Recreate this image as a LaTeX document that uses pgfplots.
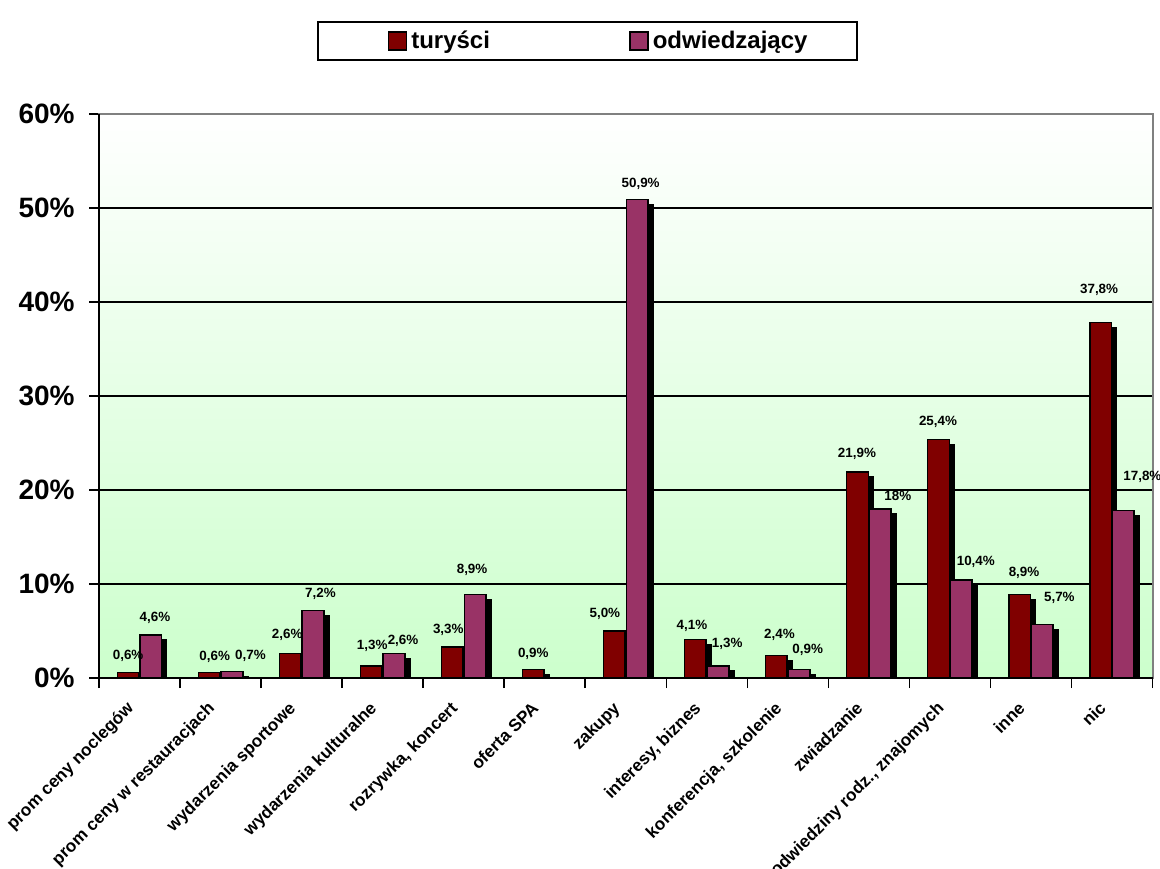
\documentclass[border=0pt]{standalone}
\usepackage{fontspec}
\setmainfont{Liberation Sans}
\usepackage{pgfplots}
\pgfplotsset{compat=1.18}
\usepackage{pgfplotstable}
\usetikzlibrary{shadows}
\definecolor{tur}{HTML}{800000}
\definecolor{odw}{HTML}{993366}
\definecolor{bgg}{HTML}{CCFFCC}

\pgfplotstableread{
x y lab dx dy
0 0.6 {0,6\%} 0 6.5
1 0.6 {0,6\%} 2.75 6
2 2.6 {2,6\%} -1.5 7.5
3 1.3 {1,3\%} 0.5 8
4 3.3 {3,3\%} -2 6.5
5 0.9 {0,9\%} 0 6
6 5.0 {5,0\%} -4.75 7
7 4.1 {4,1\%} -1.75 5
8 2.4 {2,4\%} 1.5 8.5
9 21.9 {21,9\%} -0.25 7.5
10 25.4 {25,4\%} -0.25 7
11 8.9 {8,9\%} 2.25 9
12 37.8 {37,8\%} -0.75 14.5
}\tabT

\pgfplotstableread{
x y lab dx dy
0 4.6 {4,6\%} 2 6.5
1 0.7 {0,7\%} 9.25 6
2 7.2 {7,2\%} 3.75 6.5
3 2.6 {2,6\%} 4.5 4.5
4 8.9 {8,9\%} -1.5 10.5
6 50.9 {50,9\%} 1.75 6
7 1.3 {1,3\%} 4.5 9
8 0.9 {0,9\%} 4.25 8
9 18 {18\%} 8.75 4
10 10.4 {10,4\%} 7.25 7.5
11 5.7 {5,7\%} 8.5 11.5
12 17.8 {17,8\%} 9.5 15
}\tabV

\begin{document}
\begin{tikzpicture}
\path[use as bounding box] (-49.5pt,-95pt) rectangle (530.5pt,339pt);
\begin{axis}[
  at={(0,0)}, anchor=south west,
  scale only axis, width=526.75pt, height=282pt,
  xmin=-0.5, xmax=12.5, ymin=0, ymax=60,
  xtick={-0.5,0.5,...,12.5},
  x tick label as interval,
  xticklabels={prom ceny noclegów, prom ceny w restauracjach, wydarzenia sportowe, wydarzenia kulturalne, {rozrywka, koncert}, oferta SPA, zakupy, {interesy, biznes}, {konferencja, szkolenie}, zwiadzanie, {odwiedziny rodz., znajomych}, inne, nic},
  ytick={0,10,...,60},
  yticklabels={0\%,10\%,20\%,30\%,40\%,50\%,60\%},
  xtick pos=bottom, ytick pos=left,
  tick align=outside, major tick length=5pt,
  tick style={black, line width=0.75pt},
  ymajorgrids, major grid style={black, line width=0.75pt},
  axis line style={draw=gray, line width=1pt},
  axis background/.style={shade, top color=white, bottom color=bgg},
  xticklabel style={xshift=-7pt, yshift=-6pt, rotate=45, anchor=north east, font=\bfseries\fontsize{8.6}{10}\selectfont, inner sep=0pt},
  yticklabel style={font=\bfseries\fontsize{14}{16}\selectfont, inner sep=0pt, xshift=-7pt},
  legend columns=2,
  legend style={at={(0.4637,1.1294)}, anchor=center, draw=black, line width=1pt, fill=white,
    font=\bfseries\fontsize{12}{14}\selectfont, inner xsep=23pt, inner ysep=2.2pt,
    /tikz/every even column/.append style={column sep=55.5pt}},
  after end axis/.code={\draw[black, line width=1pt] (rel axis cs:0,1) -- (rel axis cs:0,0) -- (rel axis cs:1,0);},
]
\addlegendimage{legend image code/.code={\path[draw=none, fill=none] (-12.5pt,0) -- (0pt,0); \draw[fill=tur, draw=black, line width=0.75pt] (0pt,-4.5pt) rectangle (9pt,4.5pt);}}
\addlegendentry{turyści}
\addlegendimage{legend image code/.code={\path[draw=none, fill=none] (-12.5pt,0) -- (0pt,0); \draw[fill=odw, draw=black, line width=0.75pt] (0pt,-4.5pt) rectangle (9pt,4.5pt);}}
\addlegendentry{odwiedzający}
\addplot[ybar, bar width=10.8pt, bar shift=-5.7pt, fill=tur, draw=black, line width=0.75pt, forget plot,
  drop shadow={shadow xshift=2.5pt, shadow yshift=-2.5pt, fill=black, opacity=1},
  nodes near coords, point meta=explicit symbolic,
  visualization depends on={\thisrow{dx} \as \dx},
  visualization depends on={\thisrow{dy} \as \dy},
  every node near coord/.append style={anchor=base, black, inner sep=0pt,
    font=\bfseries\fontsize{6.7}{8}\selectfont, xshift={\dx pt - 5.7pt}, yshift=\dy pt}]
  table[x=x, y=y, meta=lab]{\tabT};
\addplot[ybar, bar width=10.8pt, bar shift=5.7pt, fill=odw, draw=black, line width=0.75pt, forget plot,
  drop shadow={shadow xshift=2.5pt, shadow yshift=-2.5pt, fill=black, opacity=1},
  nodes near coords, point meta=explicit symbolic,
  visualization depends on={\thisrow{dx} \as \dx},
  visualization depends on={\thisrow{dy} \as \dy},
  every node near coord/.append style={anchor=base, black, inner sep=0pt,
    font=\bfseries\fontsize{6.7}{8}\selectfont, xshift={\dx pt + 5.7pt}, yshift=\dy pt}]
  table[x=x, y=y, meta=lab]{\tabV};
\end{axis}
\end{tikzpicture}
\end{document}
